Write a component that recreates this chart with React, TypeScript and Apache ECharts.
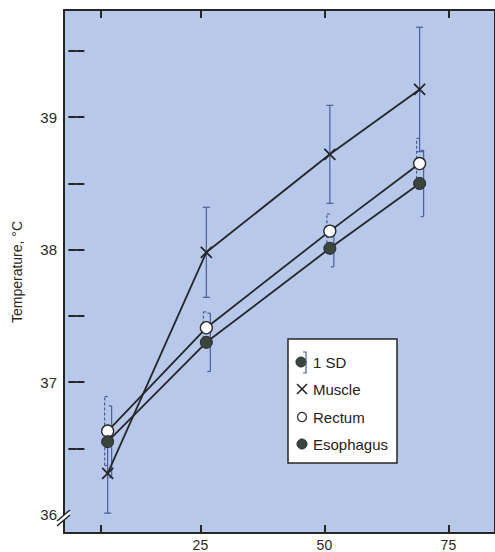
import React, { useEffect, useRef } from "react";
import * as echarts from "echarts";

const xValues = [6.3, 26.2, 51.1, 69.2];
const muscle = [36.31, 37.98, 38.72, 39.21];
const muscleSD = [0.3, 0.34, 0.37, 0.47];
const rectum = [36.63, 37.41, 38.14, 38.65];
const rectumSD = [0.26, 0.12, 0.13, 0.19];
const esophagus = [36.55, 37.3, 38.01, 38.5];
const esophagusSD = [0.27, 0.22, 0.14, 0.25];
const xTicks = [5, 25, 50, 75];
const xTickLabels = [25, 50, 75];
const yTicks = [36.5, 37, 37.5, 38, 38.5, 39, 39.5];
const yTickLabels = [36, 37, 38, 39];
const legendNames = ["1 SD", "Muscle", "Rectum", "Esophagus"];

const FONT = "'Liberation Sans', Arial, Helvetica, sans-serif";
const INK = "#262626";
const BAR = "#4a5d9c";

function barData(vals: number[], sds: number[]) {
  return xValues.map((x, i) => [x, vals[i] - sds[i], vals[i] + sds[i]]);
}

function makeBar(kind: "center" | "left" | "right") {
  return (params: any, api: any) => {
    const lo = api.coord([api.value(0), api.value(1)]);
    const hi = api.coord([api.value(0), api.value(2)]);
    const style = {
      stroke: BAR,
      lineWidth: 1.2,
      lineDash: kind === "left" ? [3, 2] : null,
    };
    let x = lo[0];
    let c1 = -3.5;
    let c2 = 3.5;
    if (kind === "left") {
      x = lo[0] - 3;
      c1 = 0;
      c2 = 3;
    } else if (kind === "right") {
      x = lo[0] + 4;
      c1 = -3;
      c2 = 0;
    }
    return {
      type: "group",
      children: [
        { type: "line", shape: { x1: x, y1: lo[1], x2: x, y2: hi[1] }, style },
        { type: "line", shape: { x1: x + c1, y1: lo[1], x2: x + c2, y2: lo[1] }, style: { stroke: BAR, lineWidth: 1.2 } },
        { type: "line", shape: { x1: x + c1, y1: hi[1], x2: x + c2, y2: hi[1] }, style: { stroke: BAR, lineWidth: 1.2 } },
      ],
    };
  };
}

export default function App() {
  const ref = useRef<HTMLDivElement>(null);
  useEffect(() => {
    if (!ref.current) return;
    const chart = echarts.init(ref.current, null, { renderer: "svg" });
    const pts = (vals: number[]) => xValues.map((x, i) => [x, vals[i]]);
    const tickStyle = { show: true, inside: true, length: 8, lineStyle: { color: INK, width: 2 } };
    const lx = 302;
    const ly = [362, 389, 417, 444];
    chart.setOption({
      animation: false,
      backgroundColor: "#ffffff",
      grid: {
        left: 64,
        right: -2,
        top: 10,
        bottom: 19,
        show: true,
        backgroundColor: "#b7c8ea",
        borderColor: INK,
        borderWidth: 2,
      },
      xAxis: [
        {
          type: "value",
          min: -2.5,
          max: 84.4,
          axisLine: { show: false },
          splitLine: { show: false },
          axisTick: { ...tickStyle, customValues: xTicks },
          axisLabel: { customValues: xTickLabels, color: "#2a2a2a", fontSize: 14, fontFamily: FONT, margin: 5 },
        },
        {
          type: "value",
          position: "top",
          min: -2.5,
          max: 84.4,
          axisLine: { show: false },
          splitLine: { show: false },
          axisTick: { ...tickStyle, customValues: xTicks },
          axisLabel: { show: false },
        },
      ],
      yAxis: [
        {
          type: "value",
          min: 35.86,
          max: 39.81,
          axisLine: { show: false },
          splitLine: { show: false },
          axisTick: { ...tickStyle, customValues: yTicks },
          axisLabel: { customValues: yTickLabels, color: "#2a2a2a", fontSize: 15, fontFamily: FONT, margin: 7 },
        },
        {
          type: "value",
          position: "right",
          min: 35.86,
          max: 39.81,
          axisLine: { show: false },
          splitLine: { show: false },
          axisTick: { ...tickStyle, customValues: yTicks },
          axisLabel: { show: false },
        },
      ],
      series: [
        { type: "custom", z: 1, renderItem: makeBar("center"), data: barData(muscle, muscleSD), encode: { x: 0, y: [1, 2] } },
        { type: "custom", z: 1, renderItem: makeBar("left"), data: barData(rectum, rectumSD), encode: { x: 0, y: [1, 2] } },
        { type: "custom", z: 1, renderItem: makeBar("right"), data: barData(esophagus, esophagusSD), encode: { x: 0, y: [1, 2] } },
        {
          type: "line",
          name: "Muscle",
          z: 3,
          data: pts(muscle),
          symbol: "path://M0,0L10,10M10,0L0,10",
          symbolSize: 11,
          lineStyle: { color: INK, width: 1.8 },
          itemStyle: { color: "none", borderColor: INK, borderWidth: 1.8 },
        },
        {
          type: "line",
          name: "Rectum",
          z: 3,
          data: pts(rectum),
          symbol: "circle",
          symbolSize: 12,
          lineStyle: { color: INK, width: 1.8 },
          itemStyle: { color: "#ffffff", borderColor: INK, borderWidth: 1.3 },
        },
        {
          type: "line",
          name: "Esophagus",
          z: 3,
          data: pts(esophagus),
          symbol: "circle",
          symbolSize: 12,
          lineStyle: { color: INK, width: 1.8 },
          itemStyle: { color: "#3b4540", borderColor: INK, borderWidth: 1 },
        },
      ],
      graphic: [
        {
          type: "text",
          x: 17,
          y: 272,
          rotation: Math.PI / 2,
          style: { text: "Temperature, °C", fill: "#2a2a2a", font: `14px ${FONT}`, align: "center", verticalAlign: "middle" },
        },
        { type: "polygon", z: 10, shape: { points: [[57, 521], [70, 510], [70, 515], [57, 526]] }, style: { fill: "#ffffff" } },
        { type: "line", z: 11, shape: { x1: 57, y1: 521, x2: 70, y2: 510 }, style: { stroke: INK, lineWidth: 1.6 } },
        { type: "line", z: 11, shape: { x1: 57, y1: 526, x2: 70, y2: 515 }, style: { stroke: INK, lineWidth: 1.6 } },
        { type: "rect", z: 10, shape: { x: 288, y: 339, width: 109, height: 124 }, style: { fill: "#ffffff", stroke: INK, lineWidth: 1.5 } },
        { type: "circle", z: 11, shape: { cx: lx - 1, cy: ly[0], r: 5 }, style: { fill: "#3b4540", stroke: INK, lineWidth: 1 } },
        { type: "polyline", z: 11, shape: { points: [[303, 352], [306, 352], [306, 373], [303, 373]] }, style: { stroke: BAR, lineWidth: 1.2, fill: "none" } },
        { type: "line", z: 11, shape: { x1: lx - 5, y1: ly[1] - 5, x2: lx + 5, y2: ly[1] + 5 }, style: { stroke: INK, lineWidth: 1.6 } },
        { type: "line", z: 11, shape: { x1: lx - 5, y1: ly[1] + 5, x2: lx + 5, y2: ly[1] - 5 }, style: { stroke: INK, lineWidth: 1.6 } },
        { type: "circle", z: 11, shape: { cx: lx, cy: ly[2], r: 4.5 }, style: { fill: "#ffffff", stroke: INK, lineWidth: 1.2 } },
        { type: "circle", z: 11, shape: { cx: lx, cy: ly[3], r: 5 }, style: { fill: "#3b4540", stroke: INK, lineWidth: 1 } },
        ...legendNames.map((t, i) => ({
          type: "text",
          z: 12,
          x: 313,
          y: ly[i],
          style: { text: t, fill: "#222222", font: `15px ${FONT}`, verticalAlign: "middle" },
        })),
      ],
    });
    return () => chart.dispose();
  }, []);
  return <div ref={ref} style={{ position: "absolute", left: 0, top: 0, width: 495, height: 552, overflow: "hidden" }} />;
}
